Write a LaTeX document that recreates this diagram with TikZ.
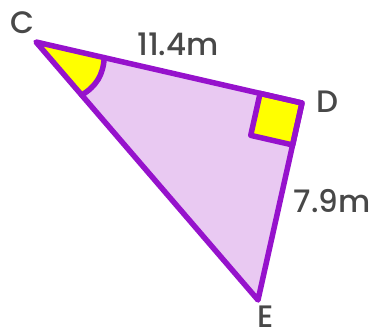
\documentclass[tikz,border=0pt]{standalone}
\usepackage{fontspec}
\setmainfont{Poppins}[UprightFont={* Medium}]
\usetikzlibrary{calc}
\definecolor{edgepurple}{HTML}{9612CC}
\definecolor{fillpurple}{HTML}{E9C9F2}
\definecolor{markyellow}{HTML}{FFFF00}
\definecolor{labelgray}{HTML}{484848}
\tikzset{
  edge/.style={draw=edgepurple, line width=5.5pt, line join=round, line cap=round},
  lbl/.style={text=labelgray, font=\fontsize{31}{31}\selectfont, inner sep=0pt},
}
\begin{document}
\begin{tikzpicture}[x=1pt,y=1pt]
\useasboundingbox (0,0) rectangle (374,335);
\coordinate (C) at (36,293);
\coordinate (D) at (302,232);
\coordinate (E) at (258,35);
% triangle fill
\fill[fillpurple] (C) -- (D) -- (E) -- cycle;
% angle mark at C
\coordinate (Ca) at ($(C)!70pt!(D)$);
\coordinate (Cb) at ($(C)!70pt!(E)$);
\fill[markyellow] (C) -- (Ca) to[bend left=28] (Cb) -- cycle;
\draw[edge] (Ca) to[bend left=28] (Cb);
% right angle square at D
\coordinate (Da) at ($(D)!43pt!(C)$);
\coordinate (Db) at ($(D)!43pt!(E)$);
\coordinate (Dc) at ($(Da)+(Db)-(D)$);
\filldraw[fill=markyellow, edge] (D) -- (Da) -- (Dc) -- (Db) -- cycle;
% triangle edges
\draw[edge] (C) -- (D) -- (E) -- cycle;
% labels
\node[lbl] (lC) at (22.5,312.5) {C};
\node[lbl] (lD) at (327,233) {D};
\node[lbl] (lE) at (266,18) {E};
\node[lbl] (lCD) at (178,291) {11.4m};
\node[lbl] (lDE) at (332,134) {7.9m};
\end{tikzpicture}
\end{document}
